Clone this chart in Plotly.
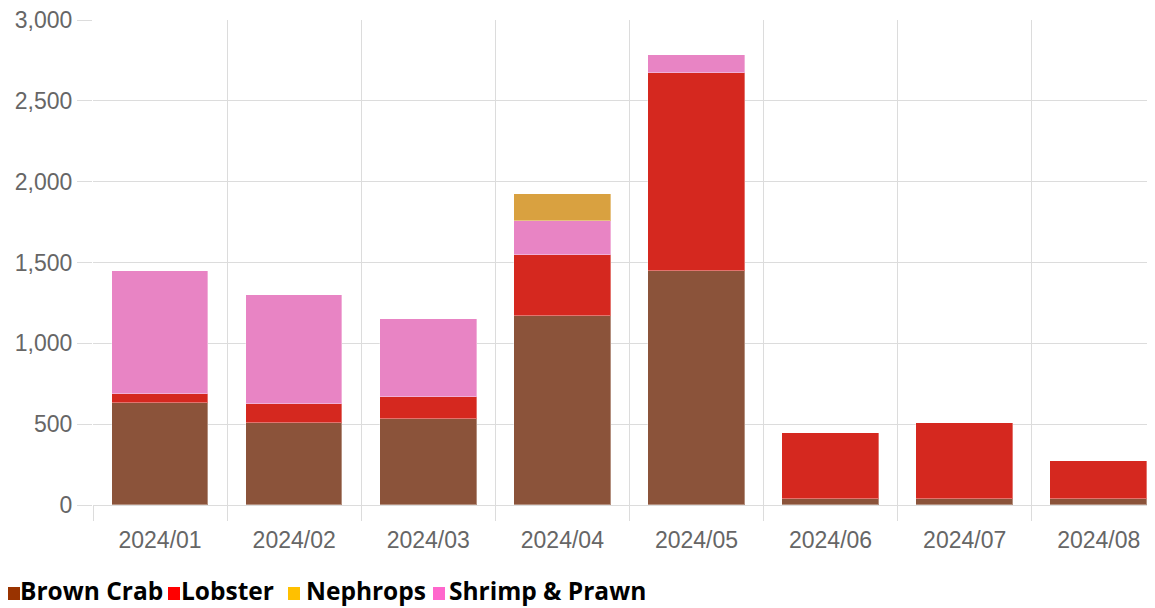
import plotly.graph_objects as go

months = ["2024/01", "2024/02", "2024/03", "2024/04", "2024/05", "2024/06", "2024/07", "2024/08"]
brown_crab = [628, 505, 533, 1168, 1447, 39, 37, 38]
lobster = [60, 120, 138, 380, 1227, 405, 469, 237]
shrimp_prawn = [762, 676, 480, 209, 112, 0, 0, 0]
nephrops = [0, 0, 0, 165, 0, 0, 0, 0]

series = [
    ("Brown Crab", brown_crab, "rgba(139,83,58,1)", "#993300"),
    ("Lobster", lobster, "rgba(213,40,31,1)", "#ff0000"),
    ("Shrimp & Prawn", shrimp_prawn, "rgba(232,132,196,1)", "#ff66cc"),
    ("Nephrops", nephrops, "rgba(217,161,64,1)", "#ffc000"),
]
legend_order = ["Brown Crab", "Lobster", "Nephrops", "Shrimp & Prawn"]
# legend layout in window pixels: (square left, text left)
legend_pos = {"Brown Crab": (8, 18), "Lobster": (168, 179), "Nephrops": (288, 304),
              "Shrimp & Prawn": (433, 447)}

x_idx = list(range(len(months)))

# page body has an 8px margin offset
OFF = 8
W, H = 1155, 608
ML, MT = 93 - OFF, 20 - OFF
plot_h = 485
MB = H - MT - plot_h
plot_w = W - ML
cat_px = 134.1


def px_x(ax):
    return (ax - 93) / plot_w


def px_y(ay):
    return (505 - ay) / plot_h


fig = go.Figure()
for name, vals, col, _ in series:
    fig.add_trace(go.Bar(
        x=x_idx, y=vals, name=name, width=0.72,
        marker=dict(color=col, line=dict(color="rgba(255,255,255,0.35)", width=1)),
        showlegend=False,
    ))

legend_cols = {s[0]: s[3] for s in series}
for name in legend_order:
    sq, tx = legend_pos[name]
    fig.add_shape(type="rect", xref="paper", yref="paper",
                  x0=px_x(sq), x1=px_x(sq + 12), y0=px_y(600), y1=px_y(587),
                  fillcolor=legend_cols[name], line=dict(width=0))
    fig.add_annotation(
        text=f"<b>{name}</b>", xref="paper", yref="paper", x=px_x(tx), y=px_y(590),
        xanchor="left", yanchor="middle", showarrow=False,
        font=dict(family="Open Sans", size=24.5, color="#000000"),
    )

grid = "#dcdcdc"
fig.update_layout(
    width=W, height=H,
    margin=dict(l=ML, r=0, t=MT, b=MB),
    barmode="stack",
    plot_bgcolor="white", paper_bgcolor="white",
    bargap=0,
    font=dict(family="Liberation Sans, Arial", size=23, color="#666666"),
    xaxis=dict(
        automargin=False,
        range=[-0.5, -0.5 + plot_w / cat_px],
        tickvals=x_idx, ticktext=months,
        showgrid=False, zeroline=False,
        ticks="outside", ticklen=14, tickcolor="rgba(0,0,0,0)",
        showline=False,
        minor=dict(tickvals=[i - 0.5 for i in range(9)], showgrid=True,
                   gridcolor=grid, gridwidth=1, ticks="outside", ticklen=15,
                   tickcolor=grid),
    ),
    yaxis=dict(
        automargin=False, ticklabeloverflow="allow",
        range=[0, 3000], tickvals=[0, 500, 1000, 1500, 2000, 2500, 3000],
        tickformat=",", showgrid=True, gridcolor=grid, gridwidth=1,
        zeroline=True, zerolinecolor=grid, zerolinewidth=1,
        ticks="outside", ticklen=15, tickcolor=grid,
        showline=False,
    ),
)

fig.write_html("out.html")
